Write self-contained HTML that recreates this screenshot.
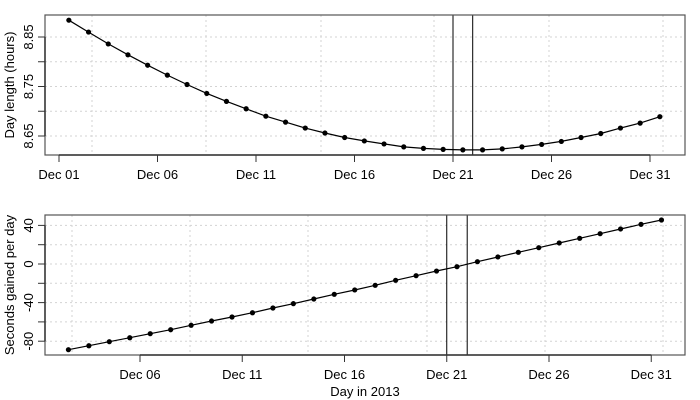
<!DOCTYPE html>
<html><head><meta charset="utf-8"><style>
html,body{margin:0;padding:0;background:#fff}
svg{display:block;font-family:"Liberation Sans",Arial,sans-serif}
</style></head><body>
<svg id="c" width="700" height="400" viewBox="0 0 700 400"></svg>
<script>
const topDays=[1,2,3,4,5,6,7,8,9,10,11,12,13,14,15,16,17,18,19,20,21,22,23,24,25,26,27,28,29,30,31];
const dayLength=[8.884,8.860,8.836,8.814,8.793,8.773,8.754,8.736,8.720,8.705,8.690,8.678,8.666,8.656,8.647,8.640,8.634,8.628,8.625,8.623,8.622,8.622,8.624,8.628,8.633,8.639,8.647,8.655,8.666,8.676,8.689];
const botDays=[2,3,4,5,6,7,8,9,10,11,12,13,14,15,16,17,18,19,20,21,22,23,24,25,26,27,28,29,30,31];
const secondsGained=[-88.8,-84.7,-80.5,-76.4,-72.2,-68.1,-63.5,-59.1,-54.9,-50.5,-45.6,-41.1,-36.3,-31.4,-26.9,-22.1,-16.9,-12.1,-7.3,-2.8,2.4,7.3,12.1,16.9,21.8,26.6,31.4,36.3,41.1,45.6];
const topXTicks=[1,6,11,16,21,26,31];
const topXLabels=["Dec 01","Dec 06","Dec 11","Dec 16","Dec 21","Dec 26","Dec 31"];
const topYTicks=[8.65,8.75,8.85];
const topYLabels=["8.65","8.75","8.85"];
const topYGrid=[8.65,8.70,8.75,8.80,8.85];
const botXTicks=[6,11,16,21,26,31];
const botXLabels=["Dec 06","Dec 11","Dec 16","Dec 21","Dec 26","Dec 31"];
const botYTicks=[-80,-40,0,40];
const botYLabels=["-80","-40","0","40"];
const botYGrid=[-80,-60,-40,-20,0,20,40];
const solsticeLines=[21,22];

const svg=document.getElementById('c');
const NS='http://www.w3.org/2000/svg';
function mk(tag,attrs,parent){const e=document.createElementNS(NS,tag);for(const k in attrs)e.setAttribute(k,attrs[k]);(parent||svg).appendChild(e);return e;}

function panel(cfg){
  const g=mk('g',{});
  
  
  const x=d=>cfg.x0+(d-cfg.d0)*cfg.pxDay;
  const y=v=>cfg.y0-(v-cfg.v0)*cfg.pxVal;
  cfg.vgrid.forEach(px=>{const l=mk('line',{x1:px,x2:px,y1:cfg.top,y2:cfg.bottom,stroke:'#d3d3d3','stroke-dasharray':'2,3'},g);});
  cfg.yGrid.forEach(v=>{const l=mk('line',{x1:45,x2:685,y1:y(v),y2:y(v),stroke:'#d3d3d3','stroke-dasharray':'2,3'},g);});
  solsticeLines.forEach(d=>{const l=mk('line',{x1:x(d),x2:x(d),y1:cfg.top,y2:cfg.bottom,stroke:'#000','stroke-width':1},g);});
  const pts=cfg.days.map((d,i)=>x(d+0.5).toFixed(1)+','+y(cfg.vals[i]).toFixed(1)).join(' ');
  const pl=mk('polyline',{points:pts,fill:'none',stroke:'#000','stroke-width':1.2},g);
  
  
  cfg.days.forEach((d,i)=>{const c=mk('circle',{cx:x(d+0.5),cy:y(cfg.vals[i]),r:2.6,fill:'#000'},g);});
  const b=mk('rect',{x:45,y:cfg.top,width:640,height:cfg.bottom-cfg.top,fill:'none',stroke:'#555','stroke-width':1.2},g);
  
  const xa=mk('line',{x1:x(cfg.xTicks[0]),x2:x(cfg.xTicks[cfg.xTicks.length-1]),y1:cfg.bottom,y2:cfg.bottom,stroke:'#333','stroke-width':1.5},g);
  
  cfg.xTicks.forEach((d,i)=>{mk('line',{x1:x(d),x2:x(d),y1:cfg.bottom,y2:cfg.bottom+7,stroke:'#333'},g);
    const t=mk('text',{x:x(d),y:cfg.bottom+24,'text-anchor':'middle','font-size':13,fill:'#000'},g);t.textContent=cfg.xLabels[i];
    });
  const ya=mk('line',{x1:45,x2:45,y1:y(cfg.yTicks[0]),y2:y(cfg.yTicks[cfg.yTicks.length-1]),stroke:'#333','stroke-width':1.5},g);
  
  cfg.yGrid.forEach(v=>{if(v>=cfg.yTicks[0]&&v<=cfg.yTicks[cfg.yTicks.length-1])mk('line',{x1:38,x2:45,y1:y(v),y2:y(v),stroke:'#333'},g);});
  cfg.yTicks.forEach((v,i)=>{const t=mk('text',{x:0,y:0,'text-anchor':'middle','font-size':13,fill:'#000',transform:`translate(33,${y(v)}) rotate(-90)`},g);t.textContent=cfg.yLabels[i];
    });
  const yt=mk('text',{x:0,y:0,'text-anchor':'middle','font-size':13,fill:'#000',transform:`translate(14,${(cfg.top+cfg.bottom)/2}) rotate(-90)`},g);
  yt.textContent=cfg.yTitle;
}

panel({name:'day-length-panel',top:15,bottom:155,x0:59,d0:1,pxDay:19.7,y0:136,v0:8.65,pxVal:495,
  days:topDays,vals:dayLength,xTicks:topXTicks,xLabels:topXLabels,yTicks:topYTicks,yLabels:topYLabels,yGrid:topYGrid,
  vgrid:[92,206,321,434,549,663],yTitle:'Day length (hours)'});
panel({name:'seconds-gained-panel',top:215,bottom:355,x0:140,d0:6,pxDay:20.45,y0:264,v0:0,pxVal:0.965,
  days:botDays,vals:secondsGained,xTicks:botXTicks,xLabels:botXLabels,yTicks:botYTicks,yLabels:botYLabels,yGrid:botYGrid,
  vgrid:[72,190,308,427,545,663],yTitle:'Seconds gained per day'});
const xt=mk('text',{x:365,y:396,'text-anchor':'middle','font-size':13,fill:'#000'});
xt.textContent='Day in 2013';


</script>
</body></html>
